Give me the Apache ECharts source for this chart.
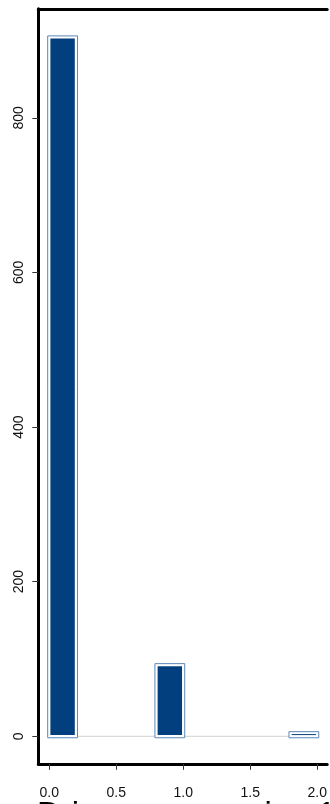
<!DOCTYPE html>
<html>
<head>
<meta charset="utf-8">
<script src="https://cdn.jsdelivr.net/npm/echarts@6/dist/echarts.min.js"></script>
<style>
html,body{margin:0;padding:0;background:#fff;}
#chart{width:330px;height:804px;}
</style>
</head>
<body>
<div id="chart"></div>
<script>
// Histogram bins (lower edge, upper edge) and counts
const binStarts = [0, 0.8, 1.8];
const binEnds = [0.2, 1.0, 2.0];
const counts = [904, 92, 4];
// Tick labels
const xTicks = [0, 0.5, 1, 1.5, 2];
const yTicks = [0, 200, 400, 600, 800];
const xTitle = "Drives per session 1";

const FONT = "'Liberation Sans', Arial, Helvetica, sans-serif";
const chart = echarts.init(document.getElementById('chart'), null, {renderer: 'canvas'});

const binData = binStarts.map((s, i) => [s, binEnds[i], counts[i]]);
const X_MIN = -0.0813, X_MAX = 2.074;

chart.setOption({
  backgroundColor: '#ffffff',
  animation: false,
  title: {
    text: xTitle,
    left: 37,
    top: 799,
    padding: 0,
    textStyle: {fontFamily: FONT, fontSize: 33, lineHeight: 33, fontWeight: 'normal', color: '#000'}
  },
  grid: {
    left: 38.3, right: 0, top: 8.8, bottom: 804 - 763.8,
    show: false
  },
  xAxis: [
    {
      type: 'value',
      position: 'bottom',
      min: X_MIN,
      max: X_MAX,
      axisLine: {show: true, onZero: false, lineStyle: {color: '#000', width: 3}},
      splitLine: {show: false},
      axisTick: {show: true, length: 6, customValues: xTicks, lineStyle: {color: '#333', width: 1}},
      axisLabel: {
        show: true, customValues: xTicks, margin: 22,
        fontFamily: FONT, fontSize: 14, color: '#111',
        formatter: v => Number(v).toFixed(1)
      }
    },
    {
      type: 'value',
      position: 'top',
      min: X_MIN,
      max: X_MAX,
      axisLine: {show: true, onZero: false, lineStyle: {color: '#000', width: 3}},
      splitLine: {show: false},
      axisTick: {show: false},
      axisLabel: {show: false}
    }
  ],
  yAxis: {
    type: 'value',
    min: -35.6,
    max: 941,
    axisLine: {show: true, onZero: false, lineStyle: {color: '#000', width: 3}},
    splitLine: {show: false},
    axisTick: {show: true, length: 6, customValues: yTicks, lineStyle: {color: '#333', width: 1}},
    axisLabel: {
      show: true, customValues: yTicks, margin: 12, rotate: 90,
      fontFamily: FONT, fontSize: 14, color: '#111'
    }
  },
  series: [
    {
      type: 'line',
      xAxisIndex: 0,
      data: [[binStarts[0], 0], [binEnds[binEnds.length - 1], 0]],
      symbol: 'none',
      lineStyle: {color: '#cfcfcf', width: 1},
      z: 1,
      silent: true
    },
    {
      type: 'custom',
      xAxisIndex: 0,
      data: binData,
      encode: {x: [0, 1], y: 2},
      z: 2,
      clip: false,
      renderItem: function (params, api) {
        const p0 = api.coord([api.value(0), api.value(2)]);
        const p1 = api.coord([api.value(1), 0]);
        const w = p1[0] - p0[0];
        const h = p1[1] - p0[1];
        const innerH = Math.max(1, h - 2.4);
        return {
          type: 'group',
          children: [
            {
              type: 'rect',
              shape: {x: p0[0] - 1.5, y: p0[1] - 1.5, width: w + 3, height: h + 3},
              style: {fill: '#ffffff', stroke: '#5b86b8', lineWidth: 1}
            },
            {
              type: 'rect',
              shape: {x: p0[0] + 1.2, y: p1[1] - 1.2 - innerH, width: w - 2.4, height: innerH},
              style: {fill: '#023f7f'}
            }
          ]
        };
      }
    }
  ]
});
</script>
</body>
</html>
